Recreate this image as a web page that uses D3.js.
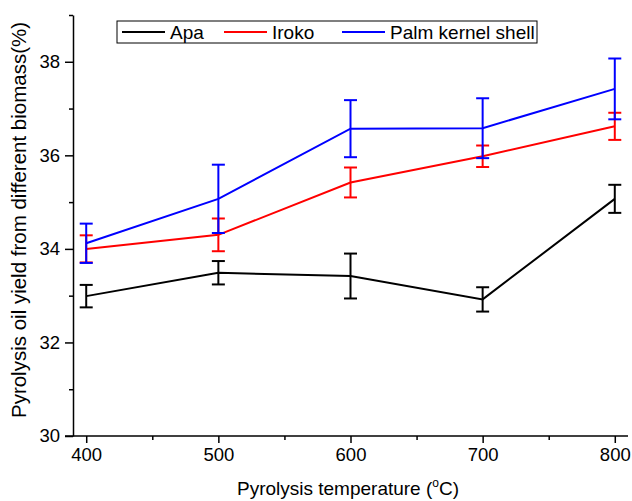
<!DOCTYPE html>
<html>
<head>
<meta charset="utf-8">
<script src="https://cdn.jsdelivr.net/npm/d3@7"></script>
<style>
  body { margin: 0; background: #fff; }
  svg { display: block; font-family: "Liberation Sans", Arial, sans-serif; }
</style>
</head>
<body>
<div id="container"></div>
<script>
// chart size
let w = 632;
let h = 501;

// data
let temps = [400, 500, 600, 700, 800];
let apaYield = [32.99, 33.49, 33.42, 32.92, 35.07];
let apaErr = [0.24, 0.25, 0.48, 0.26, 0.30];
let irokoYield = [34.00, 34.30, 35.42, 35.98, 36.62];
let irokoErr = [0.29, 0.35, 0.32, 0.23, 0.29];
let palmYield = [34.12, 35.07, 36.57, 36.58, 37.42];
let palmErr = [0.42, 0.73, 0.61, 0.64, 0.65];

let seriesNames = ["Apa", "Iroko", "Palm kernel shell"];
let seriesColors = ["#000000", "#ff0000", "#0000ff"];

let xTicks = [400, 500, 600, 700, 800];
let xMinorTicks = [450, 550, 650, 750];
let yTicks = [30, 32, 34, 36, 38];
let yMinorTicks = [31, 33, 35, 37, 39];

let series = [
  { name: seriesNames[0], color: seriesColors[0], y: apaYield, e: apaErr },
  { name: seriesNames[1], color: seriesColors[1], y: irokoYield, e: irokoErr },
  { name: seriesNames[2], color: seriesColors[2], y: palmYield, e: palmErr }
];

// plot area
let padLeft = 73, padRight = 628, padTop = 15, padBottom = 436;

let x = d3.scaleLinear().domain([390, 810]).range([padLeft, padRight]);
let y = d3.scaleLinear().domain([30, 39]).range([padBottom, padTop]);

let svg = d3.select("#container")
  .append("svg")
  .attr("width", w)
  .attr("height", h);

// axes
let xAxis = svg.append("g")
  .attr("transform", "translate(0," + padBottom + ")")
  .call(d3.axisBottom(x).tickValues(xTicks).tickSize(7).tickPadding(5).tickSizeOuter(0));
let xMinor = svg.append("g")
  .attr("transform", "translate(0," + padBottom + ")")
  .call(d3.axisBottom(x).tickValues(xMinorTicks).tickSize(4).tickFormat("").tickSizeOuter(0));

let yAxis = svg.append("g")
  .attr("transform", "translate(" + padLeft + ",0)")
  .call(d3.axisLeft(y).tickValues(yTicks).tickSize(8).tickPadding(5).tickSizeOuter(0));
let yMinor = svg.append("g")
  .attr("transform", "translate(" + padLeft + ",0)")
  .call(d3.axisLeft(y).tickValues(yMinorTicks).tickSize(4).tickFormat("").tickSizeOuter(0));

// x axis line runs a little past the y axis, like the original
xAxis.select(".domain").remove();
svg.append("line")
  .attr("x1", padLeft - 8).attr("x2", padRight)
  .attr("y1", padBottom).attr("y2", padBottom)
  .attr("stroke", "#000").attr("stroke-width", 1.5);
xMinor.select(".domain").remove();
yMinor.select(".domain").remove();

svg.selectAll(".domain").attr("stroke-width", 1.5);
svg.selectAll(".tick line").attr("stroke-width", 1.5);
svg.selectAll(".tick text")
  .attr("font-size", 18.5)
  .attr("font-family", "Liberation Sans, Arial, sans-serif")
  .attr("fill", "#000");

// axis titles
let xTitle = svg.append("text")
  .attr("x", 348)
  .attr("y", 495)
  .attr("text-anchor", "middle")
  .attr("font-size", 19);
xTitle.append("tspan").text("Pyrolysis temperature (");
xTitle.append("tspan").attr("font-size", 12).attr("dy", -8).text("o");
xTitle.append("tspan").attr("dy", 8).text("C)");

svg.append("text")
  .attr("transform", "translate(26,220) rotate(-90)")
  .attr("text-anchor", "middle")
  .attr("font-size", 20.5)
  .text("Pyrolysis oil yield from different biomass(%)");

// lines and error bars
let line = d3.line()
  .x(function(d, i) { return x(temps[i]); })
  .y(function(d) { return y(d); });

let capW = 6.5;

series.forEach(function(s) {
  let g = svg.append("g");
  g.append("path")
    .datum(s.y)
    .attr("d", line)
    .attr("fill", "none")
    .attr("stroke", s.color)
    .attr("stroke-width", 2);

  let bars = g.selectAll(".err")
    .data(s.y.map(function(v, i) { return { t: temps[i], v: v, e: s.e[i] }; }))
    .enter()
    .append("g");

  bars.append("line")
    .attr("x1", function(d) { return x(d.t); })
    .attr("x2", function(d) { return x(d.t); })
    .attr("y1", function(d) { return y(d.v + d.e); })
    .attr("y2", function(d) { return y(d.v - d.e); })
    .attr("stroke", s.color).attr("stroke-width", 2);
  bars.append("line")
    .attr("x1", function(d) { return x(d.t) - capW; })
    .attr("x2", function(d) { return x(d.t) + capW; })
    .attr("y1", function(d) { return y(d.v + d.e); })
    .attr("y2", function(d) { return y(d.v + d.e); })
    .attr("stroke", s.color).attr("stroke-width", 2);
  bars.append("line")
    .attr("x1", function(d) { return x(d.t) - capW; })
    .attr("x2", function(d) { return x(d.t) + capW; })
    .attr("y1", function(d) { return y(d.v - d.e); })
    .attr("y2", function(d) { return y(d.v - d.e); })
    .attr("stroke", s.color).attr("stroke-width", 2);
});

// legend
let legend = svg.append("g");
legend.append("rect")
  .attr("x", 117).attr("y", 21)
  .attr("width", 420).attr("height", 22)
  .attr("fill", "#fff")
  .attr("stroke", "#000").attr("stroke-width", 1);

let legendX = [122, 224, 342];
series.forEach(function(s, i) {
  legend.append("line")
    .attr("x1", legendX[i]).attr("x2", legendX[i] + 43)
    .attr("y1", 32).attr("y2", 32)
    .attr("stroke", s.color).attr("stroke-width", 2);
  legend.append("text")
    .attr("x", legendX[i] + 48)
    .attr("y", 39)
    .attr("font-size", 19)
    .text(s.name);
});
</script>
</body>
</html>
